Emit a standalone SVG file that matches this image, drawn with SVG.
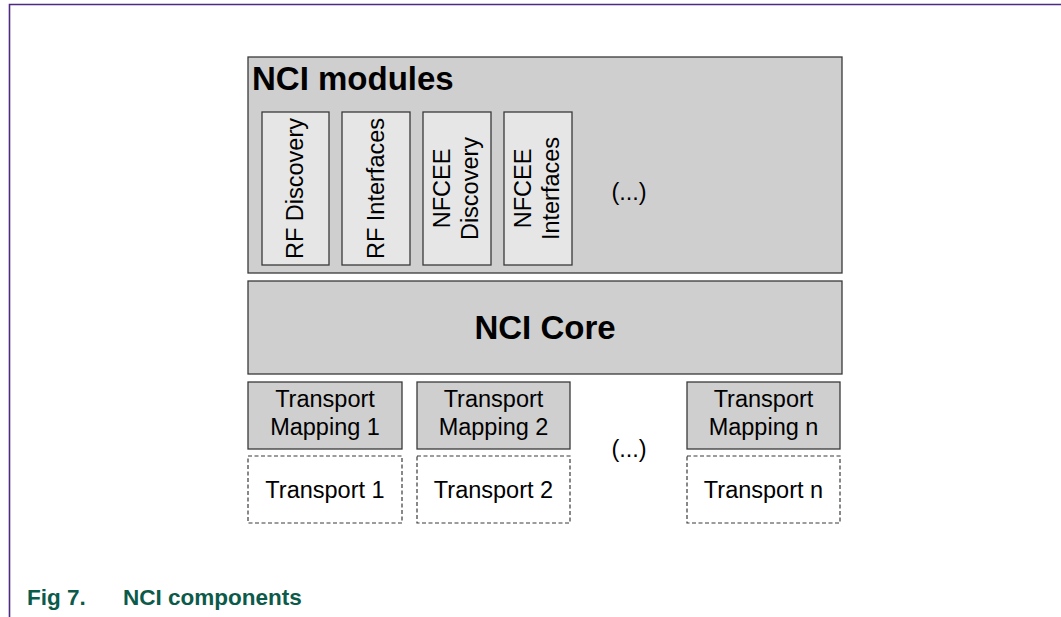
<svg xmlns="http://www.w3.org/2000/svg" width="1061" height="617" viewBox="0 0 1061 617">
<style>
.box{fill:#cfcfcf;stroke:#3a3a3a;stroke-width:1.3}
.sub{fill:#e6e6e6;stroke:#3a3a3a;stroke-width:1.3}
.dash{fill:#ffffff;stroke:#3a3a3a;stroke-width:1.2;stroke-dasharray:4 2.5}
.t{font-family:"Liberation Sans",Arial,sans-serif;font-size:23.5px;fill:#000}
.b{font-family:"Liberation Sans",Arial,sans-serif;font-weight:bold;font-size:33px;fill:#000}
.cap{font-family:"Liberation Sans",Arial,sans-serif;font-weight:bold;font-size:22.5px;fill:#0b5a4a}
</style>
<rect width="1061" height="617" fill="#ffffff"/>
<g id="frame">
<path d="M9.5 617 V4.5 H1061" fill="none" stroke="#4e2a84" stroke-width="1.6"/>
</g>
<g id="nci-modules">
<rect class="box" x="248" y="57" width="594" height="216"/>
<text class="b" x="252" y="90">NCI modules</text>
<text class="t" x="629" y="200" text-anchor="middle">(...)</text>
</g>
<g id="rf-discovery">
<rect class="sub" x="262" y="112" width="67" height="153"/>
<text class="t" transform="translate(303,188.5) rotate(-90)" text-anchor="middle">RF Discovery</text>
</g>
<g id="rf-interfaces">
<rect class="sub" x="342" y="112" width="68" height="153"/>
<text class="t" transform="translate(384,188.5) rotate(-90)" text-anchor="middle">RF Interfaces</text>
</g>
<g id="nfcee-discovery">
<rect class="sub" x="423" y="112" width="68" height="153"/>
<text class="t" transform="translate(450,188.5) rotate(-90)" text-anchor="middle">NFCEE</text>
<text class="t" transform="translate(478,188.5) rotate(-90)" text-anchor="middle">Discovery</text>
</g>
<g id="nfcee-interfaces">
<rect class="sub" x="504" y="112" width="68" height="153"/>
<text class="t" transform="translate(531,188.5) rotate(-90)" text-anchor="middle">NFCEE</text>
<text class="t" transform="translate(559,188.5) rotate(-90)" text-anchor="middle">Interfaces</text>
</g>
<g id="nci-core">
<rect class="box" x="248" y="281" width="594" height="93"/>
<text class="b" x="545" y="339" text-anchor="middle">NCI Core</text>
</g>
<g id="transport-mapping-1">
<rect class="box" x="248" y="382" width="154" height="67"/>
<text class="t" x="325" y="407" text-anchor="middle">Transport</text>
<text class="t" x="325" y="435" text-anchor="middle">Mapping 1</text>
</g>
<g id="transport-mapping-2">
<rect class="box" x="417" y="382" width="153" height="67"/>
<text class="t" x="493.5" y="407" text-anchor="middle">Transport</text>
<text class="t" x="493.5" y="435" text-anchor="middle">Mapping 2</text>
</g>
<g id="transport-mapping-n">
<rect class="box" x="687" y="382" width="153" height="67"/>
<text class="t" x="763.5" y="407" text-anchor="middle">Transport</text>
<text class="t" x="763.5" y="435" text-anchor="middle">Mapping n</text>
</g>
<g id="transport-ellipsis">
<text class="t" x="629" y="457" text-anchor="middle">(...)</text>
</g>
<g id="transport-1">
<rect class="dash" x="248" y="456" width="154" height="67"/>
<text class="t" x="325" y="498" text-anchor="middle">Transport 1</text>
</g>
<g id="transport-2">
<rect class="dash" x="417" y="456" width="153" height="67"/>
<text class="t" x="493.5" y="498" text-anchor="middle">Transport 2</text>
</g>
<g id="transport-n">
<rect class="dash" x="687" y="456" width="153" height="67"/>
<text class="t" x="763.5" y="498" text-anchor="middle">Transport n</text>
</g>
<g id="connectors"></g>
<g id="caption">
<text class="cap" x="27" y="605">Fig 7.</text>
<text class="cap" x="123" y="605">NCI components</text>
</g>
</svg>
